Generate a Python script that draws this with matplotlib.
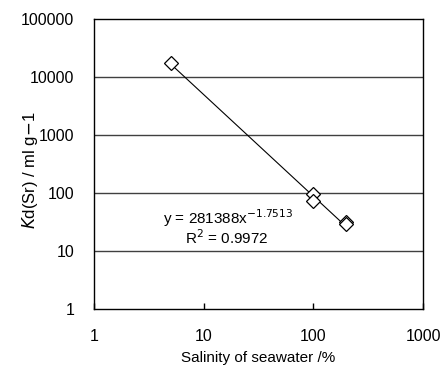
# Kd(Sr) vs salinity of seawater, log-log with power fit
import numpy as np
import matplotlib.pyplot as plt

plt.rcParams['font.family'] = ['Liberation Sans', 'DejaVu Sans']

# data
salinity = [5, 100, 100, 200, 200]
kd = [17500, 95, 72, 32, 29]
# power fit shown on the chart
coef_a = 281388
coef_b = -1.7513
r2 = 0.9972

xticks = [1, 10, 100, 1000]
yticks = [1, 10, 100, 1000, 10000, 100000]

fig = plt.figure(figsize=(4.43, 3.65), dpi=100)
ax = fig.add_axes([0.212, 0.153, 0.743, 0.795])
ax.set_xscale('log')
ax.set_yscale('log')
ax.set_xlim(1, 1000)
ax.set_ylim(1, 100000)

# horizontal grid lines
for t in yticks[1:-1]:
    ax.axhline(t, color='#404040', lw=1.0, zorder=1)

# fit line
xf = np.array([min(salinity), max(salinity)])
ax.plot(xf, coef_a * xf ** coef_b, color='black', lw=0.8, zorder=2)
ax.plot(salinity, kd, linestyle='none', marker='D', markersize=7,
        markerfacecolor='white', markeredgecolor='black', markeredgewidth=0.9, zorder=3)

ax.set_xticks(xticks)
ax.set_xticklabels([str(t) for t in xticks])
ax.set_yticks(yticks)
ax.set_yticklabels([str(t) for t in yticks])
ax.minorticks_off()
ax.tick_params(axis='x', direction='in', length=4, width=1, pad=14, labelsize=11.5)
ax.tick_params(axis='y', length=0, pad=14, labelsize=11.5)
for s in ax.spines.values():
    s.set_linewidth(1.0)
    s.set_color('black')

ax.set_xlabel('Salinity of seawater /%', fontsize=11, labelpad=5)
ax.set_ylabel(r'$K$d(Sr) / ml g$-$1', fontsize=12)
ax.yaxis.set_label_coords(-0.165, 0.48)

ax.text(0.407, 0.314, 'y = %dx$^{%s}$' % (coef_a, coef_b), transform=ax.transAxes,
        ha='center', va='center', fontsize=11)
ax.text(0.405, 0.245, 'R$^2$ = %s' % r2, transform=ax.transAxes,
        ha='center', va='center', fontsize=11)

fig.savefig('out.png', dpi=100)
